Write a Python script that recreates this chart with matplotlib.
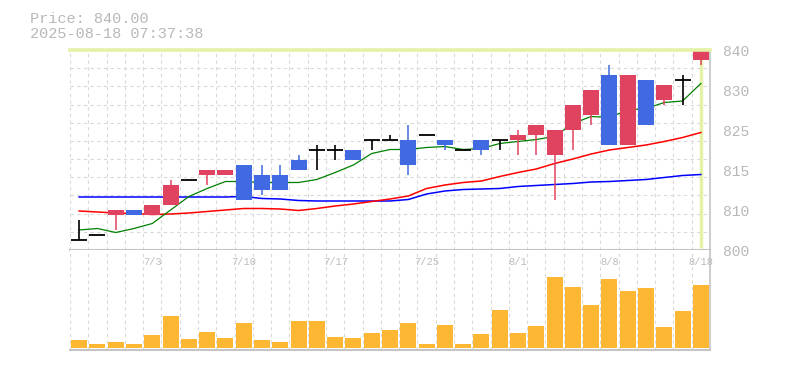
import matplotlib
matplotlib.use("Agg")
import matplotlib.pyplot as plt
import numpy as np

# ---------------- data ----------------
dates = ["6/27", "6/30", "7/1", "7/2", "7/3", "7/4", "7/7", "7/8", "7/9", "7/10",
         "7/11", "7/14", "7/15", "7/16", "7/17", "7/18", "7/22", "7/23", "7/24", "7/25",
         "7/28", "7/29", "7/30", "7/31", "8/1", "8/4", "8/5", "8/6", "8/7", "8/8",
         "8/12", "8/13", "8/14", "8/15", "8/18"]
label_dates = ["7/3", "7/10", "7/17", "7/25", "8/1", "8/8", "8/18"]

opens  = [802, 803, 807, 808, 807, 809, 814, 815, 815, 817,
          815, 815, 818, 820, 820, 820, 822, 822, 822, 823,
          822, 820, 822, 822, 822, 823, 819, 824, 827, 835,
          821, 834, 830, 834, 838]
highs  = [806, 803, 808, 808, 809, 814, 814, 816, 816, 817,
          817, 817, 819, 821, 821, 820, 822, 823, 825, 823,
          822, 820, 822, 822, 824, 825, 824, 829, 832, 837,
          835, 834, 833, 835, 840]
lows   = [802, 803, 804, 807, 807, 809, 814, 813, 815, 810,
          811, 812, 816, 816, 818, 818, 820, 822, 815, 823,
          820, 820, 819, 820, 819, 819, 810, 820, 825, 821,
          821, 825, 829, 829, 837]
closes = [802, 803, 808, 807, 809, 813, 814, 816, 816, 810,
          812, 812, 816, 820, 820, 818, 822, 822, 817, 823,
          821, 820, 820, 822, 823, 825, 824, 829, 832, 821,
          835, 825, 833, 834, 840]

ma_short = [804.0, 804.3, 803.5, 804.3, 805.3, 808.0, 810.7, 812.3, 813.7, 813.7,
            813.5, 813.5, 813.5, 814.1, 815.5, 817.0, 819.3, 820.1, 820.1, 820.5,
            820.7, 820.1, 820.3, 821.3, 821.7, 822.1, 822.7, 825.3, 826.7, 826.5,
            828.0, 828.3, 829.5, 829.8, 833.3]
ma_mid   = [807.8, 807.6, 807.4, 807.3, 807.1, 807.2, 807.4, 807.7, 808.0, 808.3,
            808.3, 808.2, 807.9, 808.3, 808.8, 809.2, 809.7, 810.2, 810.8, 812.3,
            813.0, 813.5, 813.8, 814.7, 815.5, 816.2, 817.3, 818.2, 819.2, 820.0,
            820.5, 821.0, 821.7, 822.5, 823.5]
ma_long  = [810.6, 810.6, 810.6, 810.6, 810.6, 810.6, 810.6, 810.6, 810.6, 810.7,
            810.3, 810.2, 809.9, 809.8, 809.8, 809.8, 809.8, 809.8, 810.1, 811.2,
            811.8, 812.1, 812.2, 812.3, 812.7, 812.9, 813.1, 813.3, 813.6, 813.7,
            813.9, 814.1, 814.5, 814.9, 815.1]

volumes = [8, 4, 6, 4, 13, 32, 9, 16, 10, 25,
           8, 6, 27, 27, 11, 10, 15, 18, 25, 4,
           23, 4, 14, 38, 15, 22, 71, 61, 43, 69,
           57, 60, 21, 37, 63]
volumes = [v * 1000 for v in volumes]

ytick_values = [800, 808, 816, 824, 832, 840]
ytick_labels = ["800", "810", "815", "825", "830", "840"]

price_text = "Price: 840.00"
time_text = "2025-08-18 07:37:38"
last_price = 840.0

# ---------------- style ----------------
UP = "#e0435f"
DOWN = "#4169e1"
DOJI = "#000000"
VOLC = "#fdb733"
GRID = "#d9d9d9"
TEXTC = "#b8b8b8"
HILITE = "#e3f2a6"
BORDER = "#c4c4c4"
MONO = ["Liberation Mono", "DejaVu Sans Mono"]

W, H = 785, 370
fig = plt.figure(figsize=(W / 100, H / 100), dpi=100)
fig.patch.set_facecolor("white")

L, R = 70, 710
ax = fig.add_axes([L / W, (H - 250) / H, (R - L) / W, 200 / H])
axv = fig.add_axes([L / W, (H - 350) / H, (R - L) / W, 100 / H])

n = len(closes)
x = np.arange(n)
o = np.array(opens, float)
c = np.array(closes, float)
hi = np.array(highs, float)
lo = np.array(lows, float)

for a in (ax, axv):
    a.set_xlim(-0.5, n - 0.5)
    a.set_facecolor("white")
    for s in a.spines.values():
        s.set_visible(False)
    a.tick_params(axis="x", length=0, labelbottom=False)
    for k in range(n):
        a.axvline(k - 0.5, color=GRID, lw=0.8, ls=(0, (3, 3)), zorder=0)

# price pane
ax.set_ylim(800, 840)
for gy in np.linspace(800, 840, 12)[1:-1]:
    ax.axhline(gy, color=GRID, lw=0.8, ls=(0, (3, 3)), zorder=0)

ax.plot(x, ma_long, color="#0000ff", lw=1.1, zorder=2)
ax.plot(x, ma_mid, color="#ff0000", lw=1.1, zorder=2)
ax.plot(x, ma_short, color="#008000", lw=0.9, zorder=2)

up = c > o
dn = c < o
dj = c == o
bw = 0.88
ax.vlines(x[up], lo[up], hi[up], color=UP, lw=1.1, zorder=3)
ax.vlines(x[dn], lo[dn], hi[dn], color=DOWN, lw=1.1, zorder=3)
ax.vlines(x[dj], lo[dj], hi[dj], color=DOJI, lw=1.2, zorder=3)
ax.bar(x[up], (c - o)[up], bottom=o[up], width=bw, color=UP, zorder=4)
ax.bar(x[dn], (o - c)[dn], bottom=c[dn], width=bw, color=DOWN, zorder=4)
ax.hlines(o[dj], x[dj] - bw / 2, x[dj] + bw / 2, color=DOJI, lw=1.3, zorder=4)

# current price crosshair
ax.axhline(last_price, color=HILITE, lw=2.6, zorder=5, clip_on=False)
ax.vlines([n - 1], 800.4, last_price, color=HILITE, lw=2.4, zorder=1)

ax.spines["bottom"].set_visible(True)
ax.spines["bottom"].set_color(BORDER)
ax.spines["bottom"].set_linewidth(1.5)
ax.spines["right"].set_visible(True)
ax.spines["right"].set_color(BORDER)
ax.spines["right"].set_linewidth(1.2)

ax.yaxis.tick_right()
ax.set_yticks(ytick_values)
ax.set_yticklabels(ytick_labels)
ax.tick_params(axis="y", length=0, pad=9, labelsize=10.5, labelcolor=TEXTC)
for t in ax.get_yticklabels():
    t.set_family(MONO)

# volume pane
axv.bar(x, volumes, width=bw, color=VOLC, zorder=2)
axv.set_ylim(-2000, 98000)
axv.set_yticks([])
axv.spines["bottom"].set_visible(True)
axv.spines["bottom"].set_color(BORDER)
axv.spines["bottom"].set_linewidth(1.5)
axv.spines["right"].set_visible(True)
axv.spines["right"].set_color(BORDER)
axv.spines["right"].set_linewidth(1.2)

for d in label_dates:
    i = dates.index(d)
    axv.text(i, 0.88, d, transform=axv.get_xaxis_transform(), ha="center",
             va="center", fontsize=7.5, color="#bcbcbc", family=MONO, zorder=6)

# header
fig.text(30 / W, 1 - 23 / H, price_text, fontsize=11, color=TEXTC,
         family=MONO, va="baseline", ha="left")
fig.text(30 / W, 1 - 38 / H, time_text, fontsize=11, color=TEXTC,
         family=MONO, va="baseline", ha="left")

fig.savefig("out.png", dpi=100, facecolor="white")
